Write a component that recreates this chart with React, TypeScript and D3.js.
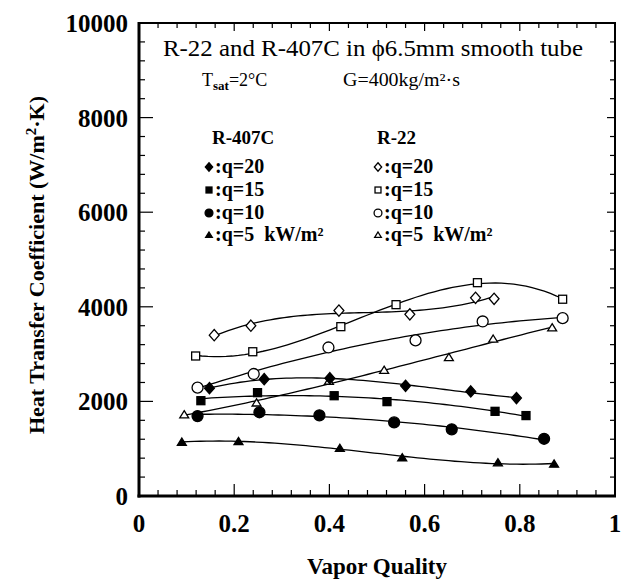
import React from "react";
import * as d3 from "d3";

// ---- Data ----
// R-22 (open symbols)
const r22q20X = [0.158, 0.235, 0.42, 0.569, 0.707, 0.746];
const r22q20Y = [3400, 3600, 3920, 3840, 4190, 4170];
const r22q15X = [0.119, 0.239, 0.424, 0.54, 0.711, 0.89];
const r22q15Y = [2960, 3050, 3580, 4045, 4510, 4160];
const r22q10X = [0.123, 0.241, 0.398, 0.581, 0.722, 0.89];
const r22q10Y = [2290, 2580, 3140, 3290, 3690, 3760];
const r22q5X = [0.095, 0.247, 0.399, 0.515, 0.651, 0.744, 0.868];
const r22q5Y = [1720, 1970, 2430, 2660, 2930, 3320, 3560];
// R-407C (filled symbols)
const r407q20X = [0.148, 0.263, 0.401, 0.56, 0.697, 0.793];
const r407q20Y = [2280, 2470, 2490, 2330, 2210, 2070];
const r407q15X = [0.13, 0.249, 0.41, 0.521, 0.748, 0.813];
const r407q15Y = [2015, 2185, 2120, 1995, 1790, 1700];
const r407q10X = [0.123, 0.253, 0.379, 0.536, 0.657, 0.851];
const r407q10Y = [1690, 1770, 1705, 1555, 1410, 1210];
const r407q5X = [0.09, 0.209, 0.422, 0.553, 0.754, 0.872];
const r407q5Y = [1140, 1155, 1010, 810, 705, 678];

const xTickLabels = ["0", "0.2", "0.4", "0.6", "0.8", "1"];
const xTickValues = [0, 0.2, 0.4, 0.6, 0.8, 1];
const yTickLabels = ["0", "2000", "4000", "6000", "8000", "10000"];
const yTickValues = [0, 2000, 4000, 6000, 8000, 10000];

type Shape = "diamond" | "square" | "circle" | "triangle";
const series: { x: number[]; y: number[]; shape: Shape; filled: boolean; deg: number }[] = [
  { x: r22q20X, y: r22q20Y, shape: "diamond", filled: false, deg: 3 },
  { x: r22q15X, y: r22q15Y, shape: "square", filled: false, deg: 3 },
  { x: r22q10X, y: r22q10Y, shape: "circle", filled: false, deg: 2 },
  { x: r22q5X, y: r22q5Y, shape: "triangle", filled: false, deg: 3 },
  { x: r407q20X, y: r407q20Y, shape: "diamond", filled: true, deg: 3 },
  { x: r407q15X, y: r407q15Y, shape: "square", filled: true, deg: 2 },
  { x: r407q10X, y: r407q10Y, shape: "circle", filled: true, deg: 2 },
  { x: r407q5X, y: r407q5Y, shape: "triangle", filled: true, deg: 3 },
];

// least-squares polynomial fit (trend curve of each series)
function polyfit(xs: number[], ys: number[], deg: number): number[] {
  const n = deg + 1;
  const A: number[][] = Array.from({ length: n }, () => new Array(n + 1).fill(0));
  for (let i = 0; i < xs.length; i++) {
    for (let r = 0; r < n; r++) {
      for (let c = 0; c < n; c++) A[r][c] += Math.pow(xs[i], r + c);
      A[r][n] += ys[i] * Math.pow(xs[i], r);
    }
  }
  for (let p = 0; p < n; p++) {
    let m = p;
    for (let r = p + 1; r < n; r++) if (Math.abs(A[r][p]) > Math.abs(A[m][p])) m = r;
    [A[p], A[m]] = [A[m], A[p]];
    for (let r = 0; r < n; r++) {
      if (r === p) continue;
      const f = A[r][p] / A[p][p];
      for (let c = p; c <= n; c++) A[r][c] -= f * A[p][c];
    }
  }
  return A.map((row, i) => row[n] / A[i][i]);
}
const polyval = (c: number[], v: number) => c.reduce((s, k, i) => s + k * Math.pow(v, i), 0);

const W = 621, H = 588;
const L = 139, R = 615, T = 23, B = 496;
const FONT = "'Liberation Serif', 'Times New Roman', serif";

function Marker({ shape, filled, cx, cy, s }: { shape: Shape; filled: boolean; cx: number; cy: number; s: number }) {
  const fill = filled ? "#000" : "#fff";
  const sw = 1.3;
  if (shape === "circle") return <circle cx={cx} cy={cy} r={s * 1.12} fill={fill} stroke="#000" strokeWidth={sw} />;
  if (shape === "square") return <rect x={cx - s * 0.85} y={cy - s * 0.85} width={s * 1.7} height={s * 1.7} fill={fill} stroke="#000" strokeWidth={sw} />;
  if (shape === "diamond") {
    const w = s * 1.05, h = s * 1.2;
    return <path d={`M${cx},${cy - h}L${cx + w},${cy}L${cx},${cy + h}L${cx - w},${cy}Z`} fill={fill} stroke="#000" strokeWidth={sw} />;
  }
  const w = s * 0.95, h = s * 0.85;
  return <path d={`M${cx},${cy - h}L${cx + w},${cy + h * 0.8}L${cx - w},${cy + h * 0.8}Z`} fill={fill} stroke="#000" strokeWidth={sw} />;
}

export default function App() {
  const x = d3.scaleLinear().domain([0, 1]).range([L, R]);
  const y = d3.scaleLinear().domain([0, 10000]).range([B, T]);
  const line = d3.line<[number, number]>().x((d) => x(d[0])).y((d) => y(d[1])).curve(d3.curveLinear);

  const xMinor = d3.range(0, 26).map((i) => i * 0.04);
  const yMinor = d3.range(0, 26).map((i) => i * 400);

  const curves = series.map((s) => {
    const c = polyfit(s.x, s.y, s.deg);
    const x0 = d3.min(s.x)!, x1 = d3.max(s.x)!;
    const pts: [number, number][] = d3.range(0, 61).map((i) => {
      const xv = x0 + ((x1 - x0) * i) / 60;
      return [xv, polyval(c, xv)];
    });
    return line(pts)!;
  });

  const legendRows = [
    { shape: "diamond" as Shape, label: ":q=20" },
    { shape: "square" as Shape, label: ":q=15" },
    { shape: "circle" as Shape, label: ":q=10" },
    { shape: "triangle" as Shape, label: ":q=5\u00a0 kW/m²" },
  ];
  const rowY = [173, 196, 219, 241];

  return (
    <svg width={W} height={H} style={{ position: "absolute", left: 0, top: 0, background: "#fff" }} fontFamily={FONT}>
      <rect x={0} y={0} width={W} height={H} fill="#fff" />
      {/* ticks */}
      <g stroke="#000" strokeWidth={1.2}>
        {xMinor.map((v, i) => {
          const major = i % 5 === 0;
          const len = major ? 12 : 6;
          return (
            <g key={"xt" + i}>
              <line x1={x(v)} x2={x(v)} y1={B} y2={B - len} />
              <line x1={x(v)} x2={x(v)} y1={T} y2={T + (major ? 8 : 5)} />
            </g>
          );
        })}
        {yMinor.map((v, i) => {
          const major = i % 5 === 0;
          const len = major ? 14 : 6;
          return (
            <g key={"yt" + i}>
              <line x1={L} x2={L + len} y1={y(v)} y2={y(v)} />
              <line x1={R} x2={R - (major ? 8 : 5)} y1={y(v)} y2={y(v)} />
            </g>
          );
        })}
      </g>
      {/* frame */}
      <line x1={L} x2={L} y1={T - 1} y2={B + 1.5} stroke="#000" strokeWidth={3} />
      <line x1={L - 1.5} x2={R + 1} y1={B} y2={B} stroke="#000" strokeWidth={3} />
      <line x1={L} x2={R + 1} y1={T} y2={T} stroke="#000" strokeWidth={2.2} />
      <line x1={R} x2={R} y1={T} y2={B} stroke="#000" strokeWidth={2} />

      {/* tick labels */}
      <g fontWeight="bold" fontSize={25} fill="#000">
        {xTickValues.map((v, i) => (
          <text key={"xl" + i} x={x(v)} y={532} textAnchor="middle">{xTickLabels[i]}</text>
        ))}
        {yTickValues.map((v, i) => (
          <text key={"yl" + i} x={128} y={y(v) + 9} textAnchor="end">{yTickLabels[i]}</text>
        ))}
      </g>
      {/* axis titles */}
      <text x={377} y={574} textAnchor="middle" fontWeight="bold" fontSize={23}>Vapor Quality</text>
      <text transform={`translate(44,265) rotate(-90)`} textAnchor="middle" fontWeight="bold" fontSize={22}>
        Heat Transfer Coefficient (W/m<tspan dy={-8} fontSize={15}>2</tspan><tspan dy={8}>·K)</tspan>
      </text>

      {/* title */}
      <text x={163} y={56} fontSize={23} textLength={420} lengthAdjust="spacingAndGlyphs">R-22 and R-407C in ϕ6.5mm smooth tube</text>
      <text x={202} y={86} fontSize={18}>
        T<tspan dy={4} fontSize={13} fontWeight="bold">sat</tspan><tspan dy={-4}>=2°C</tspan>
      </text>
      <text x={343} y={86} fontSize={18} textLength={117} lengthAdjust="spacingAndGlyphs">G=400kg/m²·s</text>

      {/* legend */}
      <text x={212} y={144} fontSize={19} fontWeight="bold">R-407C</text>
      <text x={377} y={144} fontSize={19} fontWeight="bold">R-22</text>
      {legendRows.map((r, i) => (
        <g key={"lg" + i}>
          <Marker shape={r.shape} filled={true} cx={209} cy={rowY[i] - 6} s={3.5} />
          <text x={215} y={rowY[i]} fontSize={20} fontWeight="bold">{r.label}</text>
          <Marker shape={r.shape} filled={false} cx={378} cy={rowY[i] - 6} s={3.5} />
          <text x={384} y={rowY[i]} fontSize={20} fontWeight="bold">{r.label}</text>
        </g>
      ))}

      {/* curves */}
      <g fill="none" stroke="#000" strokeWidth={1.3}>
        {curves.map((d, i) => (
          <path key={"c" + i} d={d} />
        ))}
      </g>
      {/* markers */}
      {series.map((s, si) =>
        s.x.map((xv, i) => (
          <Marker key={`m${si}-${i}`} shape={s.shape} filled={s.filled} cx={x(xv)} cy={y(s.y[i])} s={s.shape === "circle" ? 4.9 : 4.7} />
        ))
      )}
    </svg>
  );
}
